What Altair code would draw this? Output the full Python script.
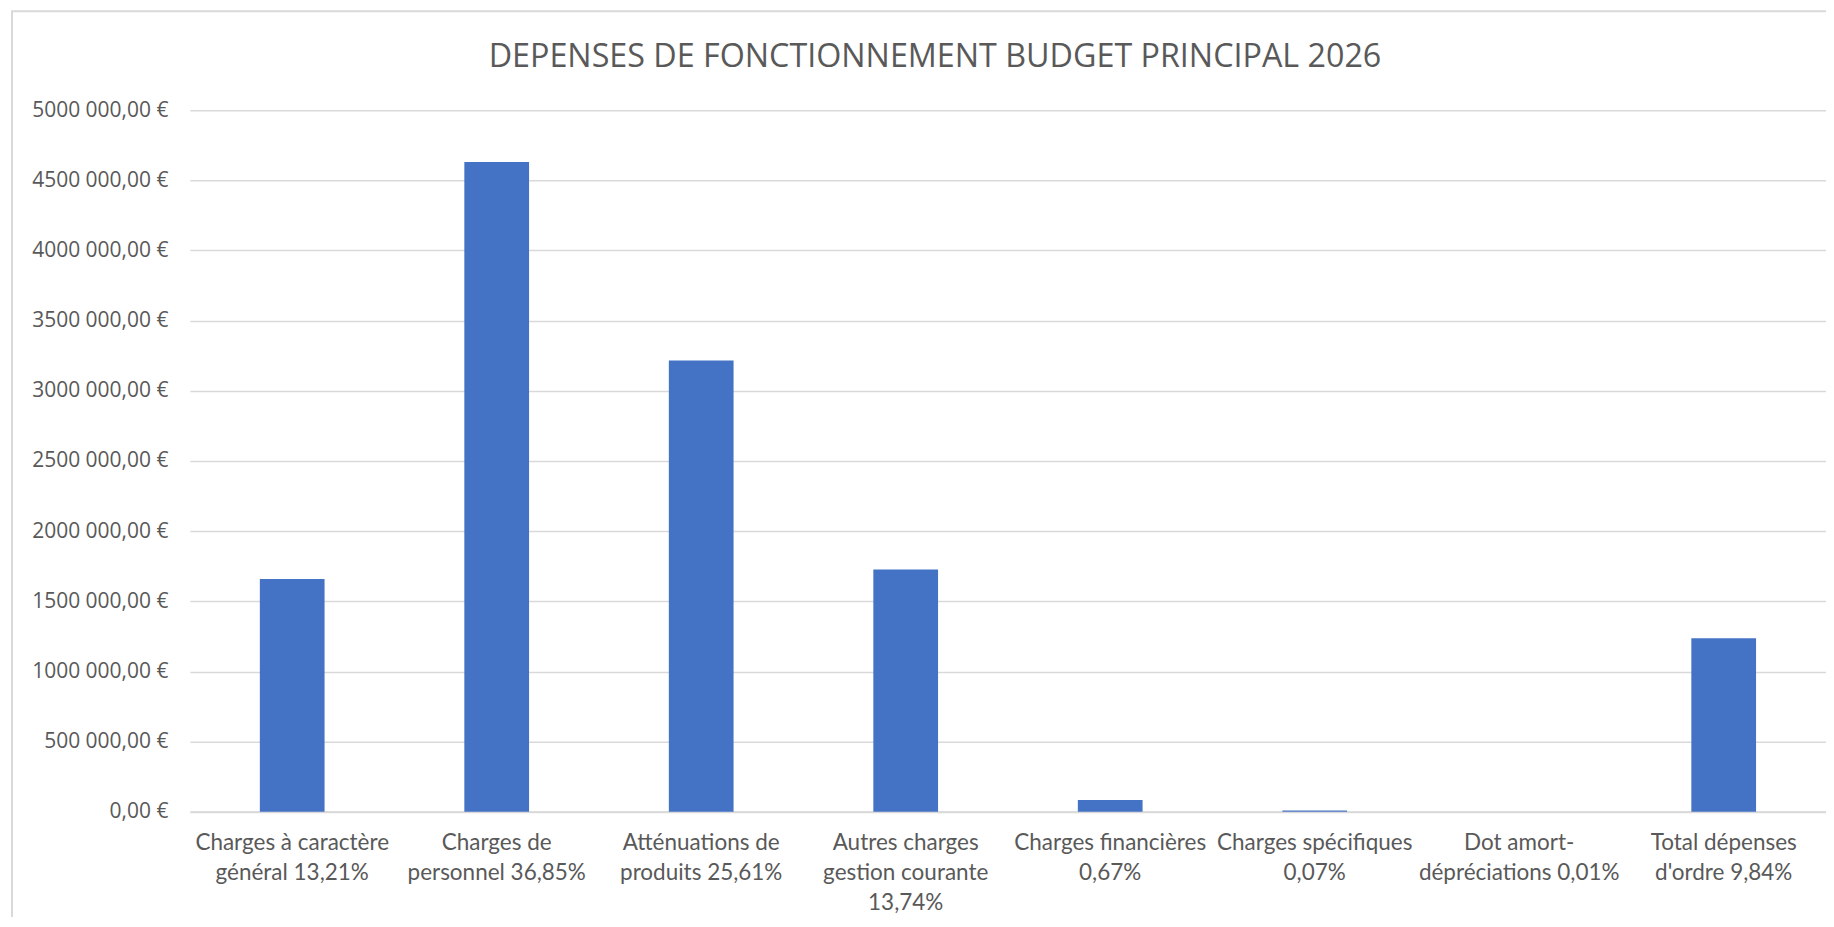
import altair as alt
import pandas as pd

title_text = "DEPENSES DE FONCTIONNEMENT BUDGET PRINCIPAL 2026"

categories = [
    "Charges à caractère|général 13,21%",
    "Charges de|personnel 36,85%",
    "Atténuations de|produits 25,61%",
    "Autres charges|gestion courante|13,74%",
    "Charges financières|0,67%",
    "Charges spécifiques|0,07%",
    "Dot amort-|dépréciations 0,01%",
    "Total dépenses|d'ordre 9,84%",
]
values = [1659000, 4630000, 3217000, 1726000, 84000, 8800, 1260, 1236000]
y_ticks = [0, 500000, 1000000, 1500000, 2000000, 2500000, 3000000,
           3500000, 4000000, 4500000, 5000000]

df = pd.DataFrame({"cat": categories, "val": values})

W, H = 1637, 702
GRID = "#d9d9d9"
TXT = "#595959"

bars = alt.Chart(df).mark_bar(color="#4472c4").encode(
    x=alt.X("cat:N", sort=None, title=None,
            scale=alt.Scale(paddingInner=0.6835, paddingOuter=0.342),
            axis=alt.Axis(labelAngle=0, labelExpr="split(datum.label, '|')",
                          labelFont="Lato", labelFontSize=22.5, labelColor=TXT,
                          labelLineHeight=30, labelPadding=20, labelLimit=400,
                          ticks=False, domain=True, domainColor=GRID,
                          domainWidth=2, grid=False)),
    y=alt.Y("val:Q", title=None,
            scale=alt.Scale(domain=[0, 5000000], nice=False),
            axis=alt.Axis(values=y_ticks, grid=True, gridColor=GRID,
                          gridWidth=1.5, domain=False, ticks=False,
                          labelFont="Open Sans", labelFontSize=21,
                          labelColor=TXT, labelPadding=22,
                          labelExpr="datum.value == 0 ? '0,00 €' : floor(datum.value/1000) + ' ' + format(datum.value % 1000, '03d') + ',00 €'")),
)

frame = alt.Chart(alt.Data(values=[{}])).mark_rect(
    fill=None, stroke=GRID, strokeWidth=2, clip=False
).encode(x=alt.value(-178), x2=alt.value(W + 100), y=alt.value(-99), y2=alt.value(H + 200))

chart = alt.layer(bars, frame).properties(
    width=W, height=H,
    title=alt.TitleParams(title_text, font="Open Sans", fontSize=32.3,
                          fontWeight="normal", color=TXT, anchor="middle",
                          baseline="alphabetic", dx=-73, offset=-89),
    autosize=alt.AutoSizeParams(type="none"),
    padding={"left": 182, "top": 102, "right": 0, "bottom": 105},
).configure_view(stroke=None)

chart.save("out.html", embed_options={"renderer": "svg", "actions": False})
